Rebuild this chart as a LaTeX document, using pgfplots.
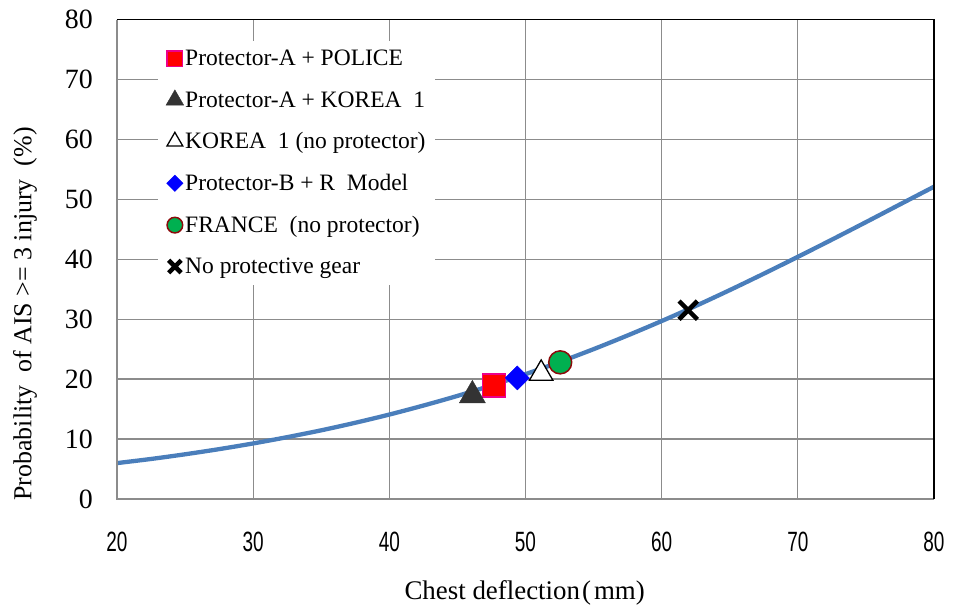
\documentclass[border=0pt]{standalone}
\usepackage{pgfplots}
\pgfplotsset{compat=1.18}
\usepackage{graphicx}
\usepackage{fontspec}
\setmainfont{Liberation Serif}
\newfontfamily\xsans{Liberation Sans}
\newcommand\xt[1]{\scalebox{0.68}[1]{\fontsize{28}{28}\selectfont\xsans #1}}
\definecolor{curveblue}{RGB}{74,126,187}
\definecolor{gridgray}{RGB}{140,140,140}
\definecolor{darktri}{RGB}{51,51,51}
\definecolor{mgreen}{RGB}{0,176,80}
\definecolor{maroon}{RGB}{139,10,10}
\begin{document}
\begin{tikzpicture}[x=1bp,y=1bp]
\begin{axis}[
  scale only axis,
  width=817bp, height=479.5bp,
  xmin=20, xmax=80, ymin=0, ymax=80,
  xtick={20,30,40,50,60,70,80},
  xticklabels={\xt{20},\xt{30},\xt{40},\xt{50},\xt{60},\xt{70},\xt{80}},
  ytick={0,10,20,30,40,50,60,70,80},
  major tick length=0pt,
  axis line style={draw=none},
  grid=major,
  major grid style={gridgray, line width=1.3bp},
  clip=false,
  /pgf/number format/assume math mode=true,
  yticklabel style={font=\fontsize{28}{28}\selectfont, inner sep=0pt, xshift=-24bp},
  xticklabel style={inner sep=0pt, yshift=-33bp},
  xlabel={Chest deflection\hspace{2bp}(\hspace{3bp}mm)},
  xlabel style={font=\fontsize{27}{27}\selectfont, at={(rel axis cs:0.499,-0.196)}, anchor=center},
  ylabel={Probability\ \ of AIS >= 3 injury\ \ (\%)},
  ylabel style={font=\fontsize{26}{26}\selectfont, at={(rel axis cs:-0.1126,0.386)}, anchor=center},
  legend style={draw=none, fill=white, at={(rel axis cs:0.050,0.956)}, anchor=north west,
    font=\fontsize{23.6}{23.6}\selectfont, row sep=21bp, inner xsep=8bp, inner ysep=8bp,
    nodes={inner sep=1.5bp}},
  legend cell align=left,
  legend image code/.code={\draw[#1, /tikz/every mark/.append style={scale=0.68}] plot coordinates {(0bp,0bp)};},
]
\addplot[curveblue, line width=4.3bp, smooth, forget plot] coordinates {
(20,5.99) (22.5,6.68) (25,7.46) (27.5,8.32) (30,9.27) (32.5,10.32) (35,11.46)
(37.5,12.72) (40,14.09) (42.5,15.59) (45,17.20) (47.5,18.95) (50,20.83)
(52.5,22.85) (55,25.00) (57.5,27.29) (60,29.69) (62.5,32.21) (65,34.85)
(67.5,37.59) (70,40.40) (72.5,43.27) (75,46.19) (77.5,49.15) (80,52.10)};
\draw[gridgray, line width=1.5bp] (rel axis cs:0,1) -- (rel axis cs:0,0) -- (rel axis cs:1,0);
\draw[black, line width=1.8bp] (rel axis cs:0,1) -- (rel axis cs:1,1) -- (rel axis cs:1,0);
\addplot[only marks, mark=square*, mark size=11.5bp, mark options={fill=red, draw=magenta, line width=1.5bp}] coordinates {(47.7,18.95)};
\addlegendentry{Protector-A + POLICE}
\addplot[only marks, mark=triangle*, mark size=15bp, mark options={fill=darktri, draw=darktri}] coordinates {(46.1,17.3)};
\addlegendentry{Protector-A + KOREA\ \ 1}
\addplot[only marks, mark=triangle*, mark size=13.5bp, mark options={fill=white, draw=black, line width=1.3bp}] coordinates {(51.15,20.95)};
\addlegendentry{KOREA\ \ 1 (no protector)}
\addplot[only marks, mark=square*, mark size=8.5bp, mark options={rotate=45, fill=blue, draw=blue}] coordinates {(49.4,20.2)};
\addlegendentry{Protector-B + R\ \ Model}
\addplot[only marks, mark=*, mark size=11.5bp, mark options={fill=mgreen, draw=maroon, line width=1.5bp}] coordinates {(52.55,22.8)};
\addlegendentry{FRANCE\ \ (no protector)}
\addplot[only marks, mark=x, mark size=13bp, mark options={draw=black, line width=4.5bp}] coordinates {(61.95,31.5)};
\addlegendentry{No protective gear}
\coordinate (bbl) at (rel axis cs:-0.1432,-0.2357);
\coordinate (btr) at (rel axis cs:1.0245,1.0407);
\end{axis}
\path (bbl) rectangle (btr);
\end{tikzpicture}
\end{document}
